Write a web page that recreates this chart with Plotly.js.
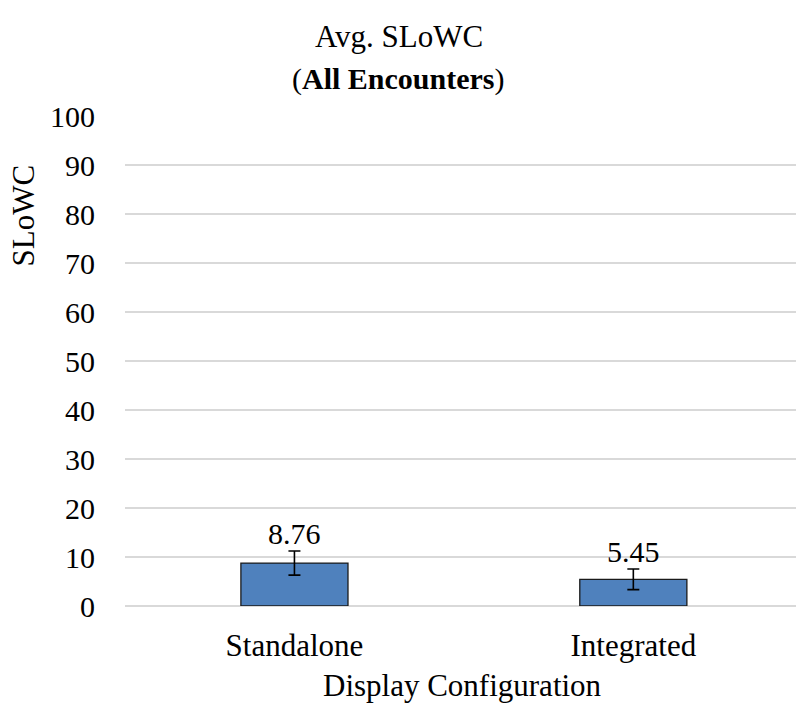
<!DOCTYPE html>
<html><head><meta charset="utf-8">
<script src="https://cdn.plot.ly/plotly-3.0.1.min.js"></script>
<style>body{margin:0;background:#fff}#c{width:796px;height:704px}</style>
</head><body><div id="c"></div>
<script>
const categories = ["Standalone", "Integrated"];
const values = [8.76, 5.45];
const errors = [2.45, 2.1];
const labels = ["8.76", "5.45"];
const yTicks = [0,10,20,30,40,50,60,70,80,90,100];

const FONT = "Liberation Serif, Times New Roman, serif";
const trace = {
  type: "bar", x: [0, 1], y: values, width: 0.316,
  marker: {color: "#4F81BD", line: {color: "#1a1a1a", width: 1.3}},
  error_y: {type: "data", array: errors, visible: true, color: "#000", thickness: 1.6, width: 6},
  hoverinfo: "none"
};
const annotations = categories.map((c, i) => ({
  x: i, y: values[i] + errors[i], xref: "x", yref: "y", yanchor: "bottom",
  text: labels[i], showarrow: false, yshift: -1,
  font: {family: FONT, size: 30, color: "#000"}
}));
annotations.push({
  text: "SLoWC", textangle: -90, xref: "paper", yref: "paper",
  x: -0.152, y: 0.797, showarrow: false, xanchor: "center", yanchor: "middle",
  font: {family: FONT, size: 31, color: "#000"}
});
annotations.push({
  text: "Avg. SLoWC", xref: "paper", yref: "paper", x: 0.408, y: 1.163,
  xanchor: "center", yanchor: "middle", showarrow: false,
  font: {family: FONT, size: 31, color: "#000"}
});
annotations.push({
  text: "(<b>All Encounters</b>)", xref: "paper", yref: "paper", x: 0.408, y: 1.0745,
  xanchor: "center", yanchor: "middle", showarrow: false,
  font: {family: FONT, size: 30, color: "#000"}
});
annotations.push({
  text: "Display Configuration", xref: "paper", yref: "paper", x: 0.503, y: -0.163,
  xanchor: "center", yanchor: "middle", showarrow: false,
  font: {family: FONT, size: 31, color: "#000"}
});
const layout = {
  width: 796, height: 704, paper_bgcolor: "#fff", plot_bgcolor: "#fff",
  margin: {l: 125, r: 0, t: 116, b: 98},
  showlegend: false,
  xaxis: {range: [-0.5, 1.48], tickvals: [0, 1], ticktext: categories,
    showgrid: false, showline: false, zeroline: false,
    ticks: "outside", ticklen: 12, tickcolor: "rgba(0,0,0,0)",
    tickfont: {family: FONT, size: 31, color: "#000"}},
  yaxis: {range: [0, 100], tickvals: yTicks, ticktext: yTicks.map(String),
    showgrid: true, gridcolor: "#d9d9d9", gridwidth: 1.3, zeroline: true, zerolinecolor: "#d9d9d9", zerolinewidth: 1.3,
    showline: false, ticks: "outside", ticklen: 23, tickcolor: "rgba(0,0,0,0)",
    tickfont: {family: FONT, size: 30, color: "#000"}},
  annotations: annotations
};
Plotly.newPlot("c", [trace], layout, {staticPlot: true});
</script></body></html>
